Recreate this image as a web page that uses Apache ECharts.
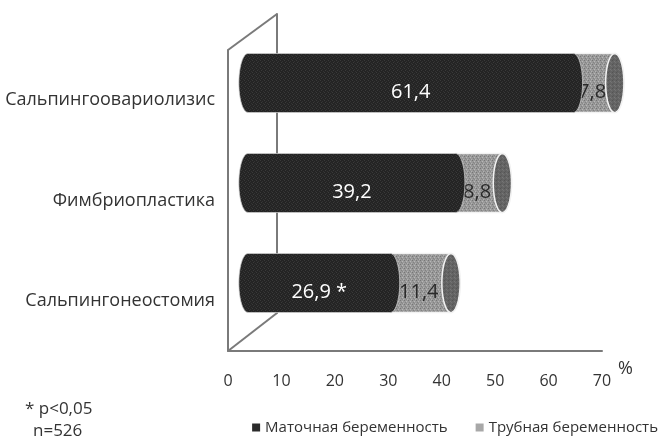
<!DOCTYPE html>
<html>
<head>
<meta charset="utf-8">
<script src="https://cdn.jsdelivr.net/npm/echarts@6/dist/echarts.min.js"></script>
<style>
  html, body { margin: 0; padding: 0; background: #ffffff; }
  #chart { width: 663px; height: 438px; }
</style>
</head>
<body>
<div id="chart"></div>
<script>
// Data
const categories = ['Сальпингоовариолизис', 'Фимбриопластика', 'Сальпингонеостомия'];
const uterine = [61.4, 39.2, 26.9];          // Маточная беременность, %
const tubal = [7.8, 8.8, 11.4];              // Трубная беременность, %
const significant = [false, false, true];    // marked with *
const xTicks = [0, 10, 20, 30, 40, 50, 60, 70];
const seriesNames = ['Маточная беременность', 'Трубная беременность'];
const notes = ['* p<0,05', 'n=526'];

// Layout of the pseudo-3D frame
const FRONT = { left: 228, top: 50, right: 602, bottom: 351 };
const BACK = { left: 277, top: 14, bottom: 313 };
const BARS = { left: 248, right: 619, top: 33, bottom: 333 };
const FONT = '"Open Sans", "DejaVu Sans", sans-serif';
const FRAME = '#7a7a7a';

function makePattern(base, dots) {
  const c = document.createElement('canvas');
  c.width = 4; c.height = 4;
  const g = c.getContext('2d');
  g.fillStyle = base; g.fillRect(0, 0, 4, 4);
  dots.forEach(function (d) { g.fillStyle = d[2]; g.fillRect(d[0], d[1], 1, 1); });
  return { image: c, repeat: 'repeat' };
}
const darkFill = makePattern('#242424', [[0, 0, '#3a3a3a'], [2, 1, '#333333'], [1, 2, '#3a3a3a'], [3, 3, '#333333']]);
const greyFill = makePattern('#999999', [[0, 0, '#767676'], [2, 1, '#b8b8b8'], [1, 2, '#828282'], [3, 3, '#b2b2b2'], [2, 3, '#888888']]);
const capFill = makePattern('#646464', [[0, 0, '#545454'], [2, 1, '#777777'], [1, 3, '#5a5a5a'], [3, 2, '#727272']]);

function fmt(v) { return v.toFixed(1).replace('.', ','); }

function halfEllipse(cx, cy, rx, ry, from, n) {
  const pts = [];
  for (let k = 0; k <= n; k++) {
    const t = from + Math.PI * k / n;
    pts.push([cx + rx * Math.cos(t), cy + ry * Math.sin(t)]);
  }
  return pts;
}

// One cylinder segment per data item: [start, end, categoryIndex]
function cylinder(kind) {
  return function (params, api) {
    const i = params.dataIndex;
    const p0 = api.coord([api.value(0), api.value(2)]);
    const p1 = api.coord([api.value(1), api.value(2)]);
    const band = api.size([0, 1])[1];
    const ry = band * 0.295;
    const rx = ry * 0.31;
    const cy = p0[1];
    const body = halfEllipse(p1[0], cy, rx, ry, -Math.PI / 2, 24)
      .concat(halfEllipse(p0[0], cy, rx, ry, Math.PI / 2, 24));
    const children = [{
      type: 'polygon',
      shape: { points: body },
      style: {
        fill: kind === 'dark' ? darkFill : greyFill,
        stroke: kind === 'dark' ? 'rgba(210,210,210,0.7)' : '#f2f2f2',
        lineWidth: kind === 'dark' ? 1 : 1.5
      }
    }];
    if (kind === 'grey') {
      children.push({
        type: 'polygon',
        shape: { points: halfEllipse(p1[0], cy, rx, ry, -Math.PI / 2, 24).concat(halfEllipse(p1[0], cy, rx, ry, Math.PI / 2, 24)) },
        style: { fill: capFill, stroke: '#f2f2f2', lineWidth: 1.5 }
      });
    }
    const value = kind === 'dark' ? uterine[i] : tubal[i];
    const text = fmt(value) + (kind === 'dark' && significant[i] ? ' *' : '');
    children.push({
      type: 'text',
      style: {
        text: text,
        x: (p0[0] + p1[0]) / 2 + (kind === 'grey' ? -2 : 0),
        y: cy + 9,
        fill: kind === 'dark' ? '#ffffff' : '#2a2a2a',
        fontSize: 20,
        fontFamily: FONT,
        align: 'center',
        verticalAlign: 'middle'
      }
    });
    return { type: 'group', children: children };
  };
}

const chart = echarts.init(document.getElementById('chart'), null, { renderer: 'canvas' });

const noteStyle = { fontFamily: FONT, fontSize: 17, fontWeight: 'normal', color: '#333' };

chart.setOption({
  animation: false,
  backgroundColor: '#ffffff',
  grid: [
    { left: FRONT.left, top: FRONT.top, width: FRONT.right - FRONT.left, height: FRONT.bottom - FRONT.top },
    { left: BACK.left, top: BACK.top, width: 10, height: BACK.bottom - BACK.top },
    { left: BARS.left, top: BARS.top, width: BARS.right - BARS.left, height: BARS.bottom - BARS.top }
  ],
  xAxis: [
    {
      gridIndex: 0, type: 'value', min: xTicks[0], max: xTicks[xTicks.length - 1], interval: xTicks[1] - xTicks[0],
      name: '%', nameLocation: 'end', nameGap: 16,
      nameTextStyle: { fontFamily: FONT, fontSize: 18, color: '#333', verticalAlign: 'top', padding: [9, 0, 0, 0] },
      axisLine: { show: true, lineStyle: { color: FRAME, width: 2 } },
      axisTick: { show: false }, splitLine: { show: false },
      axisLabel: { margin: 22, fontFamily: FONT, fontSize: 16, color: '#333' }
    },
    { gridIndex: 1, type: 'value', show: false },
    { gridIndex: 2, type: 'value', min: 0, max: 70, show: false }
  ],
  yAxis: [
    {
      gridIndex: 0, type: 'category', data: categories, inverse: true,
      axisLine: { show: true, lineStyle: { color: FRAME, width: 2 } },
      axisTick: { show: false },
      axisLabel: { margin: 13, padding: [5, 0, 0, 0], fontFamily: FONT, fontSize: 18, color: '#333' }
    },
    {
      gridIndex: 1, type: 'category', data: categories, inverse: true,
      axisLine: { show: true, lineStyle: { color: FRAME, width: 2 } },
      axisTick: { show: false }, axisLabel: { show: false }
    },
    { gridIndex: 2, type: 'category', data: categories, inverse: true, show: false }
  ],
  legend: {
    data: seriesNames, right: 5, bottom: 3, padding: 0,
    icon: 'rect', itemWidth: 8, itemHeight: 8, itemGap: 28,
    textStyle: { fontFamily: FONT, fontSize: 15, color: '#333' }
  },
  title: [
    { text: notes[0], left: 25, top: 401, padding: 0, textStyle: noteStyle },
    { text: notes[1], left: 33, top: 423, padding: 0, textStyle: noteStyle }
  ],
  graphic: [
    { type: 'line', shape: { x1: FRONT.left, y1: FRONT.top, x2: BACK.left, y2: BACK.top }, style: { stroke: FRAME, lineWidth: 2 }, z: 0 },
    { type: 'line', shape: { x1: FRONT.left, y1: FRONT.bottom, x2: BACK.left, y2: BACK.bottom }, style: { stroke: FRAME, lineWidth: 2 }, z: 0 }
  ],
  series: [
    {
      name: seriesNames[1], type: 'custom', xAxisIndex: 2, yAxisIndex: 2, z: 3,
      itemStyle: { color: '#a8a8a8' },
      encode: { x: [0, 1], y: 2 },
      renderItem: cylinder('grey'),
      data: tubal.map(function (v, i) { return [uterine[i], uterine[i] + v, i]; })
    },
    {
      name: seriesNames[0], type: 'custom', xAxisIndex: 2, yAxisIndex: 2, z: 4,
      itemStyle: { color: '#2b2b2b' },
      encode: { x: [0, 1], y: 2 },
      renderItem: cylinder('dark'),
      data: uterine.map(function (v, i) { return [0, v, i]; })
    }
  ]
});
</script>
</body>
</html>
